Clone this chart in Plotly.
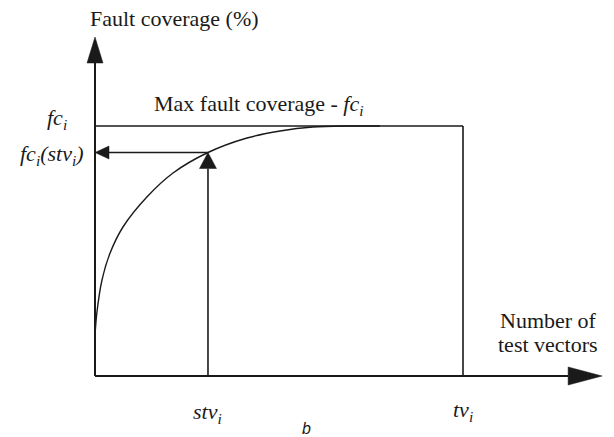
import plotly.graph_objects as go

# Fault coverage growth versus number of applied test vectors
TV_MAX = 10.0        # tv_i : total test vectors
STV = 3.07           # stv_i : selected subset of test vectors
FC_MAX = 100.0       # fc_i : maximum fault coverage (%)
FC_STV = 89.4        # fc_i(stv_i) : coverage reached with stv_i vectors

test_vectors = [0.0, 0.05, 0.19, 0.41, 0.76, 1.41, 2.12, 3.07, 4.13, 5.03, 5.92, 6.85, 7.74]
coverage = [16.4, 25.2, 38.4, 49.2, 59.6, 71.6, 81.2, 89.4, 95.2, 98.0, 99.6, 100.0, 100.0]

X_AXIS_END = 13.78   # extent of the horizontal axis arrow
Y_AXIS_END = 135.6   # extent of the vertical axis arrow

W, H = 614, 437
X_RANGE = [-2.5815, 14.103]
Y_RANGE = [-24.4, 150.4]
SX = W / (X_RANGE[1] - X_RANGE[0])   # pixels per x unit
SY = H / (Y_RANGE[1] - Y_RANGE[0])   # pixels per y unit

INK = "#1a1a1a"
SERIF = "Liberation Serif, Times New Roman, serif"


def arrow_head(tip_x, tip_y, direction, length_px, half_px):
    """Filled triangular arrow head path in data coordinates."""
    if direction == "up":
        bx, by = tip_x, tip_y - length_px / SY
        pts = [(tip_x, tip_y), (bx - half_px / SX, by), (bx + half_px / SX, by)]
    elif direction == "right":
        bx, by = tip_x - length_px / SX, tip_y
        pts = [(tip_x, tip_y), (bx, by + half_px / SY), (bx, by - half_px / SY)]
    else:  # left
        bx, by = tip_x + length_px / SX, tip_y
        pts = [(tip_x, tip_y), (bx, by + half_px / SY), (bx, by - half_px / SY)]
    path = "M " + " L ".join(f"{x},{y}" for x, y in pts) + " Z"
    return dict(type="path", path=path, xref="x", yref="y",
                fillcolor=INK, line=dict(color=INK, width=0.5))


def seg(x0, y0, x1, y1, width=1.6):
    return dict(type="line", x0=x0, y0=y0, x1=x1, y1=y1, xref="x", yref="y",
                line=dict(color=INK, width=width))


fig = go.Figure()

fig.add_trace(go.Scatter(
    x=test_vectors, y=coverage, mode="lines",
    line=dict(color=INK, width=1.4, shape="spline", smoothing=0.8),
    hoverinfo="skip", showlegend=False,
))

TOP_HEAD, RIGHT_HEAD, UP_HEAD, LEFT_HEAD = 26, 34, 16, 14

shapes = [
    # axes
    seg(0, 0, 0, Y_AXIS_END - TOP_HEAD / SY, 2.0),
    seg(0, 0, X_AXIS_END - RIGHT_HEAD / SX, 0, 2.0),
    arrow_head(0, Y_AXIS_END, "up", TOP_HEAD, 8),
    arrow_head(X_AXIS_END, 0, "right", RIGHT_HEAD, 9),
    # maximum coverage level and total test vectors
    seg(0, FC_MAX, TV_MAX, FC_MAX),
    seg(TV_MAX, 0, TV_MAX, FC_MAX),
    # stv_i -> fc_i(stv_i) lookup
    seg(STV, 0, STV, FC_STV - UP_HEAD / SY),
    arrow_head(STV, FC_STV, "up", UP_HEAD, 8.5),
    seg(STV, FC_STV, LEFT_HEAD / SX, FC_STV),
    arrow_head(0, FC_STV, "left", LEFT_HEAD, 6.5),
]

FS = 22
annotations = [
    dict(x=-0.19, y=143.0, text="Fault coverage (%)", xanchor="left", yanchor="middle",
         font=dict(family=SERIF, size=FS, color=INK)),
    dict(x=1.55, y=FC_MAX, text="Max fault coverage - <i>fc<sub>i</sub></i>",
         xanchor="left", yanchor="bottom", yshift=5,
         font=dict(family=SERIF, size=FS, color=INK)),
    dict(x=0, y=FC_MAX, text="<i>fc<sub>i</sub></i>", xanchor="right", yanchor="middle",
         xshift=-26, yshift=7, font=dict(family=SERIF, size=FS, color=INK)),
    dict(x=0, y=FC_STV, text="<i>fc<sub>i</sub>(stv<sub>i</sub>)</i>", xanchor="right",
         yanchor="middle", xshift=-9, yshift=-2,
         font=dict(family=SERIF, size=FS, color=INK)),
    dict(x=TV_MAX, y=0, text="Number of", xanchor="left", yanchor="middle",
         xshift=35, yshift=56, font=dict(family=SERIF, size=FS, color=INK)),
    dict(x=TV_MAX, y=0, text="test vectors", xanchor="left", yanchor="middle",
         xshift=33, yshift=32, font=dict(family=SERIF, size=FS, color=INK)),
    dict(x=STV, y=0, text="<i>stv<sub>i</sub></i>", xanchor="center", yanchor="top",
         yshift=-21, font=dict(family=SERIF, size=FS, color=INK)),
    dict(x=TV_MAX, y=0, text="<i>tv<sub>i</sub></i>", xanchor="center", yanchor="top",
         yshift=-19, font=dict(family=SERIF, size=FS, color=INK)),
    dict(x=5.75, y=0, text="<i>b</i>", xanchor="center", yanchor="middle",
         yshift=-52, font=dict(family="Liberation Sans", size=16, color=INK)),
]
for a in annotations:
    a.update(xref="x", yref="y", showarrow=False)

fig.update_layout(
    width=W, height=H,
    margin=dict(l=0, r=0, t=0, b=0),
    paper_bgcolor="white", plot_bgcolor="white",
    xaxis=dict(range=X_RANGE, visible=False, fixedrange=True),
    yaxis=dict(range=Y_RANGE, visible=False, fixedrange=True),
    shapes=shapes, annotations=annotations,
)

fig.write_html("out.html")
